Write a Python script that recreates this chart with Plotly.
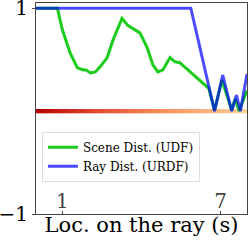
import numpy as np
import plotly.graph_objects as go

# Scene distance (UDF) along the ray
udf_x = [0.0, 0.81, 1.0, 1.30, 1.57, 1.79, 1.9, 2.06, 2.25, 2.43, 2.70, 2.92, 3.26, 3.49, 3.94,
         4.21, 4.43, 4.62, 4.81, 5.08, 5.26, 5.45, 6.55, 6.77, 7.05, 7.42, 7.55, 7.70, 8.0]
udf_y = [1.0, 1.0, 0.79, 0.56, 0.42, 0.40, 0.40, 0.37, 0.38, 0.43, 0.52, 0.69, 0.90, 0.83, 0.76,
         0.62, 0.45, 0.38, 0.40, 0.52, 0.48, 0.47, 0.22, 0.01, 0.30, 0.01, 0.12, 0.0, 0.2]

# Ray distance (URDF)
urdf_x = [0.0, 5.87, 6.77, 7.08, 7.42, 7.60, 7.75, 8.0]
urdf_y = [1.0, 1.0, 0.0, 0.35, 0.0, 0.155, 0.0, 0.36]

x_ticks = [1, 7]
y_ticks = [-1, 1]
y_tick_text = ["1" if v == 1 else "\u22121" for v in y_ticks]

# colored ray baseline
ray_s = np.linspace(0, 8, 300)

fig = go.Figure()
fig.add_trace(go.Scatter(
    x=ray_s, y=np.zeros_like(ray_s), mode="markers", showlegend=False, hoverinfo="skip",
    marker=dict(symbol="square", size=4, color=ray_s, line=dict(width=0),
                colorscale=[[0, "#b30000"], [0.3, "#e34a33"], [0.6, "#fc8d59"], [1, "#fdd49e"]])))
fig.add_trace(go.Scatter(x=udf_x, y=udf_y, mode="lines", name="Scene Dist. (UDF)",
                         line=dict(color="#1ccc1c", width=3)))
fig.add_trace(go.Scatter(x=urdf_x, y=urdf_y, mode="lines", name="Ray Dist. (URDF)",
                         line=dict(color="rgba(0,0,255,0.7)", width=3)))

font_family = "DejaVu Serif"
fig.update_layout(
    width=249, height=243,
    margin=dict(l=36, r=2, t=3, b=29, autoexpand=False),
    plot_bgcolor="white", paper_bgcolor="white",
    font=dict(family=font_family, color="black"),
    legend=dict(x=0.028, y=0.39, xanchor="left", yanchor="top",
                bgcolor="white", bordercolor="#dddddd", borderwidth=1,
                font=dict(size=12, family=font_family), tracegroupgap=0),
    xaxis=dict(range=[0, 8], tickvals=x_ticks, ticktext=[str(v) for v in x_ticks],
               ticklabelposition="inside", ticks="inside", ticklen=3,
               ticklabeloverflow="allow", automargin=False,
               showgrid=False, zeroline=False, showline=True, mirror=True,
               linecolor="#444", linewidth=1, tickfont=dict(size=20),
               title=dict(text="Loc. on the ray (s)", font=dict(size=21), standoff=1)),
    yaxis=dict(range=[-1, 1.05], tickvals=y_ticks, ticktext=y_tick_text,
               ticks="outside", ticklen=3, showgrid=False, zeroline=False,
               ticklabeloverflow="allow", automargin=False,
               showline=True, mirror=True, linecolor="#444", linewidth=1,
               tickfont=dict(size=20)),
)

fig.write_html("out.html", config={"displayModeBar": False},
               post_script="document.body.style.margin='0';document.body.style.overflow='hidden';")
